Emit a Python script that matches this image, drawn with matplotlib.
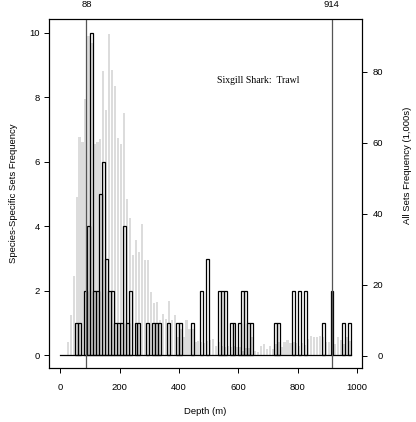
import numpy as np
import matplotlib
matplotlib.use("Agg")
import matplotlib.pyplot as plt

plt.rcParams['font.family'] = ['Liberation Sans', 'DejaVu Sans']
plt.rcParams['font.size'] = 6.8

BIN = 10

# species-specific sets: start depth of each 10 m bin and its count
shark_depths = [50, 60, 80, 90, 100, 110, 120, 130, 140, 150,
                160, 170, 180, 190, 200, 210, 220, 230, 250, 260,
                290, 310, 320, 330, 360, 390, 400, 440, 470, 490,
                530, 540, 550, 570, 580, 600, 610, 620, 630, 640,
                720, 730, 780, 800, 820, 880, 910, 950, 970]
shark_counts = [1, 1, 2, 4, 10, 2, 2, 5, 6, 3,
                2, 2, 1, 1, 1, 4, 1, 2, 1, 1,
                1, 1, 1, 1, 1, 1, 1, 1, 2, 3,
                2, 2, 2, 1, 1, 1, 2, 2, 1, 1,
                1, 1, 2, 2, 2, 1, 2, 1, 1]

# all sets (thousands), 10 m bins starting at 20 m
all_start = 20
all_counts = [3.8, 11.3, 22.3, 44.6, 61.7, 60.1, 72.4, 90.0, 88.0, 59.6,
              60.3, 61.1, 80.3, 69.3, 90.5, 80.6, 75.9, 61.2, 59.6, 68.3,
              44.0, 38.9, 28.3, 32.7, 29.2, 37.2, 26.9, 27.0, 17.9, 14.8,
              15.1, 9.9, 11.8, 10.4, 15.5, 9.9, 11.3, 5.2, 7.5, 5.2,
              9.9, 7.5, 7.5, 3.8, 4.2, 3.8, 3.6, 4.2, 4.4, 4.6,
              2.8, 3.9, 2.6, 2.3, 2.6, 2.3, 2.6, 2.3, 2.5, 1.2,
              2.0, 2.0, 5.2, 1.4, 0.9, 2.6, 3.3, 1.9, 2.6, 1.9,
              3.3, 3.8, 2.3, 3.9, 4.4, 3.5, 3.8, 3.5, 2.8, 3.5,
              3.0, 4.7, 5.5, 5.2, 5.2, 5.4, 5.2, 3.8, 3.8, 4.7,
              3.3, 5.1, 4.4, 3.3, 5.2, 4.0]

marker_depths = [88, 914]
x_ticks = [0, 200, 400, 600, 800, 1000]
left_ticks = [0, 2, 4, 6, 8, 10]
right_ticks = [0, 20, 40, 60, 80]

title = "Sixgill Shark:  Trawl"


def main():
    fig = plt.figure(figsize=(4.16, 4.22), dpi=100)
    ax = fig.add_axes([49 / 416, 54 / 422, 313 / 416, 349 / 422])
    ax2 = ax.twinx()

    all_depths = all_start + BIN * np.arange(len(all_counts))
    ax2.bar(all_depths + BIN / 2, all_counts, width=7.5, color='#dcdcdc', linewidth=0)

    sd = np.array(shark_depths)
    ax.bar(sd + BIN / 2, shark_counts, width=BIN, fill=False,
           edgecolor='black', linewidth=0.9)
    ax.plot([0, sd.max() + BIN], [0, 0], color='black', linewidth=0.9)

    for d in marker_depths:
        ax.axvline(d, color='#555555', linewidth=0.9)

    ax.set_zorder(ax2.get_zorder() + 1)
    ax.patch.set_visible(False)

    ax.set_xlim(-38, 1016)
    ax.set_ylim(-0.39, 10.43)
    ax2.set_ylim(-3.52, 94.86)

    ax.set_xticks(x_ticks)
    ax.set_yticks(left_ticks)
    ax2.set_yticks(right_ticks)
    ax.tick_params(axis='x', length=3.6, width=0.7, pad=7)
    ax.tick_params(axis='y', length=3.6, width=0.7, pad=2.9)
    ax2.tick_params(axis='y', length=3.6, width=0.7, pad=11.5)
    for lab in ax2.get_yticklabels():
        lab.set_horizontalalignment('right')

    top = ax.secondary_xaxis('top')
    top.set_xticks(marker_depths)
    top.tick_params(length=0, pad=7.5)
    top.spines['top'].set_visible(False)

    for a in (ax, ax2):
        for s in a.spines.values():
            s.set_linewidth(0.8)

    ax.set_xlabel("Depth (m)", labelpad=11)
    ax.set_ylabel("Species-Specific Sets Frequency", labelpad=8)
    ax2.set_ylabel("All Sets Frequency (1,000s)")
    ax2.yaxis.set_label_coords((403 - 49) / 313, 0.58)

    ax.text(667, 8.52, title, family=['Liberation Serif', 'DejaVu Serif'],
            fontsize=7, ha='center', va='center')

    fig.savefig("out.png", dpi=100)


if __name__ == '__main__':
    main()
